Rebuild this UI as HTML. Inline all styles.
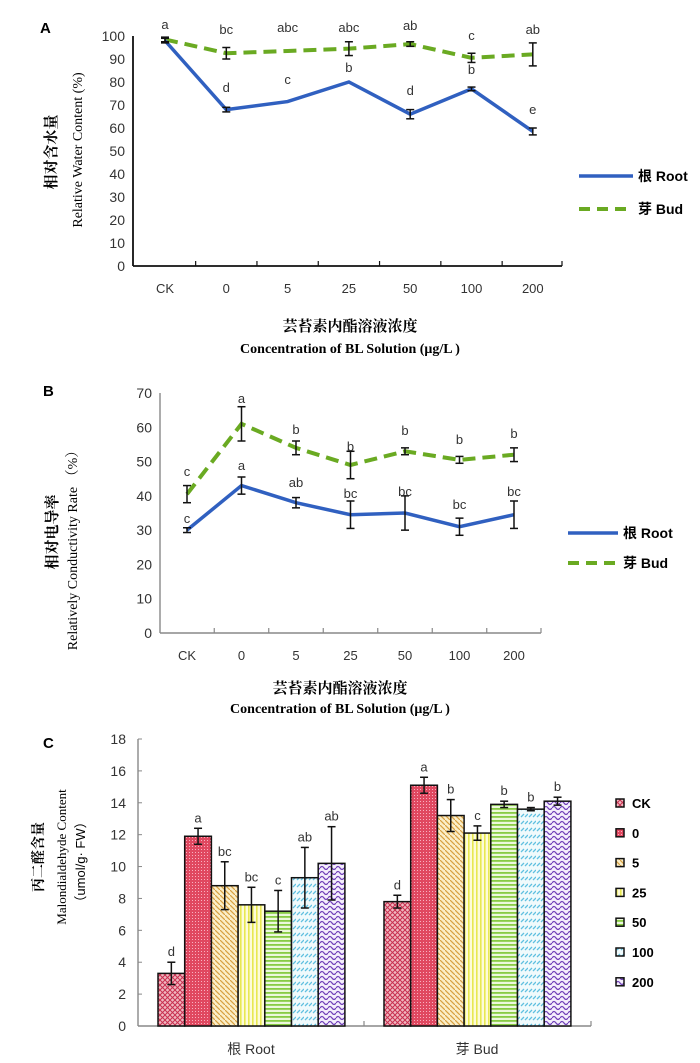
<!DOCTYPE html>
<html><head><meta charset="utf-8"><style>
html,body{margin:0;padding:0;background:#fff;}
svg{display:block;}
text{font-family:"Liberation Sans","Noto Sans CJK SC",sans-serif;}
.tk{font-size:14px;fill:#333;}
.lb{font-size:13px;fill:#333;}
.ser{font-family:"Liberation Serif","Noto Serif CJK SC",serif;font-weight:bold;}
</style></head><body>
<svg id="s" width="700" height="1063" xmlns="http://www.w3.org/2000/svg">
<defs>
<pattern id="pCK" width="5" height="5" patternUnits="userSpaceOnUse"><rect width="5" height="5" fill="#f0b8c0"/><path d="M0 0L5 5M5 0L0 5" stroke="#c83050" stroke-width="1"/></pattern>
<pattern id="p0" width="3" height="3" patternUnits="userSpaceOnUse"><rect width="3" height="3" fill="#e04860"/><rect width="1" height="1" fill="#f8b0c0"/></pattern>
<pattern id="p5" width="5" height="5" patternUnits="userSpaceOnUse"><rect width="5" height="5" fill="#fbeec8"/><path d="M0 0L5 5" stroke="#d8a040" stroke-width="1.2"/></pattern>
<pattern id="p25" width="4" height="4" patternUnits="userSpaceOnUse"><rect width="4" height="4" fill="#fdfbd8"/><rect width="1.6" height="4" fill="#e8e850"/></pattern>
<pattern id="p50" width="4" height="4" patternUnits="userSpaceOnUse"><rect width="4" height="4" fill="#ecf8dc"/><rect width="4" height="1.8" fill="#88cc44"/></pattern>
<pattern id="p100" width="8" height="7" patternUnits="userSpaceOnUse"><rect width="8" height="7" fill="#f0fafc"/><path d="M1 5L4 2M5 5L8 2" stroke="#60c0e0" stroke-width="1.3"/></pattern>
<pattern id="p200" width="8" height="5" patternUnits="userSpaceOnUse"><rect width="8" height="5" fill="#f4eefc"/><path d="M0 3Q2 0 4 3T8 3" stroke="#7040b8" stroke-width="1.2" fill="none"/></pattern>
</defs>
</svg>
<script>
const s=document.getElementById('s');const NS='http://www.w3.org/2000/svg';
function el(t,a,txt){const e=document.createElementNS(NS,t);for(const k in a)e.setAttribute(k,a[k]);if(txt!==undefined)e.textContent=txt;s.appendChild(e);return e;}
function line(x1,y1,x2,y2,c,w,extra){return el('line',Object.assign({x1,y1,x2,y2,stroke:c,'stroke-width':w},extra||{}));}
function text(x,y,t,a){return el('text',Object.assign({x,y},a||{}),t);}
function eb(x,y1,y2){line(x,y1,x,y2,'#111',1.5);line(x-4,y1,x+4,y1,'#111',1.5);line(x-4,y2,x+4,y2,'#111',1.5);}
const cats=['CK','0','5','25','50','100','200'];
function lineChart(o){
 const {ax,ay0,ayTop,max,step,x0,dx,xend,axc}=o;
 const Y=v=>ay0-(ay0-ayTop)*v/max;
 line(ax,ayTop,ax,ay0,axc,o.aw);line(ax,ay0,xend,ay0,axc,o.aw);
 for(let v=0;v<=max;v+=step){text(ax-8,Y(v)+5,String(v),{class:'tk','text-anchor':'end'});}
 for(let i=1;i<7;i++){const x=x0+dx*(i-0.5);line(x,ay0,x,ay0-5,axc,1.2);}
 line(xend,ay0,xend,ay0-5,axc,1.2);
 cats.forEach((c,i)=>text(x0+dx*i,ay0+27,c,{class:'tk','text-anchor':'middle',style:'font-size:13px'}));
 const pts=(d)=>d.map((v,i)=>(x0+dx*i)+','+Y(v)).join(' ');
 el('polyline',{points:pts(o.bud),fill:'none',stroke:'#6aaa22','stroke-width':4,'stroke-dasharray':'13,7'});
 el('polyline',{points:pts(o.root),fill:'none',stroke:'#3060c0','stroke-width':3.5});
 o.bud.forEach((v,i)=>{if(o.be[i])eb(x0+dx*i,Y(v+o.be[i]),Y(v-o.be[i]));});
 o.root.forEach((v,i)=>{if(o.re[i])eb(x0+dx*i,Y(v+o.re[i]),Y(v-o.re[i]));});
 o.bl.forEach((l,i)=>text(x0+dx*i,l[1],l[0],{class:'lb','text-anchor':'middle'}));
 o.rl.forEach((l,i)=>text(x0+dx*i,l[1],l[0],{class:'lb','text-anchor':'middle'}));
 const L=o.leg;
 line(L.x1,L.y1,L.x2,L.y1,'#3060c0',3.5);
 line(L.x1,L.y2,L.x2,L.y2,'#6aaa22',4,{'stroke-dasharray':'11,7'});
 text(L.x2+5,L.y1+5,'根 Root',{style:'font-size:14px;font-weight:bold'});
 text(L.x2+5,L.y2+5,'芽 Bud',{style:'font-size:14px;font-weight:bold'});
}
// Chart A
text(40,33,'A',{style:'font-size:15px;font-weight:bold'});
lineChart({ax:133,ay0:266,ayTop:36,max:100,step:10,x0:165,dx:61.3,xend:562,axc:'#111',aw:1.8,
 root:[98,68,71.5,80,66,77,58.5],re:[1,1,0,0,2,0.8,1.5],
 bud:[98.5,92.5,93.5,94.5,96.5,90.5,92],be:[1,2.5,0,3,1,2,5],
 bl:[['a',29],['bc',34],['abc',32],['abc',32],['ab',30],['c',40],['ab',34]],
 rl:[['',0],['d',92],['c',84],['b',72],['d',95],['b',74],['e',114]],
 leg:{x1:579,x2:633,y1:176,y2:209}});
text(350,331,'芸苔素内酯溶液浓度',{'text-anchor':'middle',class:'ser',style:'font-size:15px'});
text(350,353,'Concentration of BL Solution (μg/L )',{'text-anchor':'middle',class:'ser',style:'font-size:14px'});
text(0,0,'相对含水量',{class:'ser',style:'font-size:15px',transform:'translate(56,152) rotate(-90)','text-anchor':'middle'});
text(0,0,'Relative Water Content (%)',{class:'ser',style:'font-size:14px;font-weight:normal',transform:'translate(82,150) rotate(-90)','text-anchor':'middle'});
// Chart B
text(43,396,'B',{style:'font-size:15px;font-weight:bold'});
lineChart({ax:160,ay0:633,ayTop:393,max:70,step:10,x0:187,dx:54.5,xend:541,axc:'#888',aw:1.4,
 root:[30,43,38,34.5,35,31,34.5],re:[0.7,2.5,1.5,4,5,2.5,4],
 bud:[40.5,61,54,49,53,50.5,52],be:[2.5,5,2,4,1,1,2],
 bl:[['c',476],['a',403],['b',434],['b',451],['b',435],['b',444],['b',438]],
 rl:[['c',523],['a',470],['ab',487],['bc',498],['bc',496],['bc',509],['bc',496]],
 leg:{x1:568,x2:618,y1:533,y2:563}});
text(340,693,'芸苔素内酯溶液浓度',{'text-anchor':'middle',class:'ser',style:'font-size:15px'});
text(340,713,'Concentration of BL Solution (μg/L )',{'text-anchor':'middle',class:'ser',style:'font-size:14px'});
text(0,0,'相对电导率',{class:'ser',style:'font-size:15px',transform:'translate(57,532) rotate(-90)','text-anchor':'middle'});
text(0,0,'Relatively Conductivity Rate （%）',{class:'ser',style:'font-size:14px;font-weight:normal',transform:'translate(77,547) rotate(-90)','text-anchor':'middle'});
// Chart C
text(43,748,'C',{style:'font-size:15px;font-weight:bold'});
(function(){
 const ax=138,ay0=1026,ayTop=739,max=18;const Y=v=>ay0-(ay0-ayTop)*v/max;
 line(ax,ayTop,ax,ay0,'#888',1.4);line(ax,ay0,591,ay0,'#888',1.4);
 line(364,ay0,364,ay0-5,'#888',1.2);line(591,ay0,591,ay0-5,'#888',1.2);
 for(let v=0;v<=18;v+=2){text(126,Y(v)+5,String(v),{class:'tk','text-anchor':'end'});line(ax,Y(v),ax+4,Y(v),'#888',1);}
 const pats=['pCK','p0','p5','p25','p50','p100','p200'];
 const groups=[{x:158,v:[3.3,11.9,8.8,7.6,7.2,9.3,10.2],e:[0.7,0.5,1.5,1.1,1.3,1.9,2.3],l:['d','a','bc','bc','c','ab','ab']},
  {x:384,v:[7.8,15.1,13.2,12.1,13.9,13.6,14.1],e:[0.4,0.5,1.0,0.45,0.2,0.1,0.25],l:['d','a','b','c','b','b','b']}];
 const w=26.7;
 groups.forEach(g=>{g.v.forEach((v,i)=>{const x=g.x+w*i;el('rect',{x,y:Y(v),width:w,height:ay0-Y(v),fill:'url(#'+pats[i]+')',stroke:'#111','stroke-width':1.5});});
  g.v.forEach((v,i)=>{const cx=g.x+w*i+w/2;eb(cx,Y(v+g.e[i]),Y(v-g.e[i]));text(cx,Y(v+g.e[i])-6,g.l[i],{class:'lb','text-anchor':'middle'});});});
 text(251,1054,'根 Root',{class:'tk','text-anchor':'middle'});
 text(477,1054,'芽 Bud',{class:'tk','text-anchor':'middle'});
 const ln=['CK','0','5','25','50','100','200'];
 ln.forEach((t,i)=>{const y=803+29.8*i;el('rect',{x:616,y:y-4,width:8,height:8,fill:'url(#'+pats[i]+')',stroke:'#111','stroke-width':1.5});text(632,y+5,t,{style:'font-size:13px;font-weight:bold'});});
 text(0,0,'丙二醛含量',{class:'ser',style:'font-size:14px',transform:'translate(43,857) rotate(-90)','text-anchor':'middle'});
 text(0,0,'Malondialdehyde Content',{class:'ser',style:'font-size:13px;font-weight:normal',transform:'translate(66,857) rotate(-90)','text-anchor':'middle'});
 text(0,0,'（umol/g· FW）',{style:'font-size:13px',transform:'translate(85,862) rotate(-90)','text-anchor':'middle'});
})();
</script>
</body></html>
